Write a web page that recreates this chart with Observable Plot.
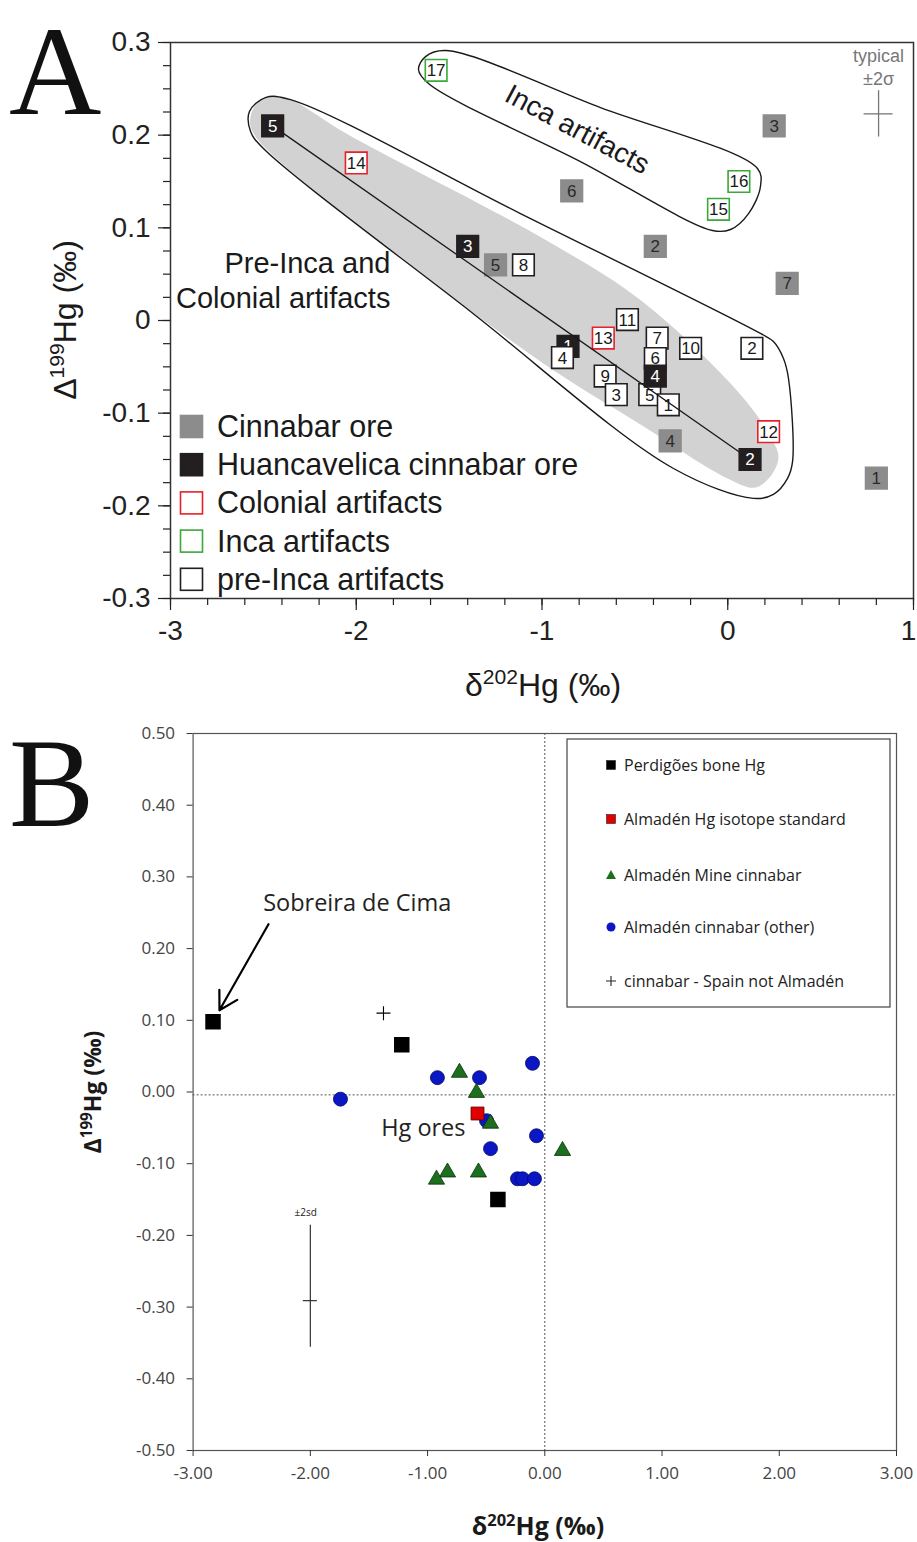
<!DOCTYPE html>
<html><head><meta charset="utf-8">
<script src="https://cdn.jsdelivr.net/npm/d3@7"></script>
<script src="https://cdn.jsdelivr.net/npm/@observablehq/plot@0.6"></script>
<style>
body{margin:0;background:#fff;}
#wrap{position:relative;width:917px;height:1542px;overflow:hidden;background:#fff;}
#panelA{position:absolute;left:0;top:0;}
#panelB{position:absolute;left:0;top:710px;}
#overlay{position:absolute;left:0;top:0;pointer-events:none;}
</style></head><body>
<div id="wrap"><div id="panelA"></div><div id="panelB"></div><svg id="overlay" width="917" height="1542"></svg></div>
<script>
// ---------------- Panel A data ----------------
const cinnabarOre = [
  {id:"3",x:0.25,y:0.21},{id:"6",x:-0.84,y:0.14},{id:"2",x:-0.39,y:0.08},
  {id:"7",x:0.32,y:0.04},{id:"5",x:-1.25,y:0.06},{id:"4",x:-0.31,y:-0.13},{id:"1",x:0.80,y:-0.17}
];
const huancavelicaOre = [
  {id:"5",x:-2.45,y:0.21},{id:"3",x:-1.40,y:0.08},{id:"1",x:-0.86,y:-0.028},
  {id:"4",x:-0.39,y:-0.06},{id:"2",x:0.12,y:-0.15}
];
const colonialArtifacts = [{id:"14",x:-2.00,y:0.17},{id:"13",x:-0.67,y:-0.019},{id:"12",x:0.22,y:-0.12}];
const incaArtifacts = [{id:"17",x:-1.57,y:0.27},{id:"16",x:0.06,y:0.15},{id:"15",x:-0.05,y:0.12}];
const preIncaArtifacts = [
  {id:"8",x:-1.10,y:0.06},{id:"11",x:-0.54,y:0.001},{id:"7",x:-0.38,y:-0.019},{id:"10",x:-0.20,y:-0.03},
  {id:"2",x:0.13,y:-0.03},{id:"6",x:-0.39,y:-0.041},{id:"4",x:-0.89,y:-0.04},{id:"9",x:-0.66,y:-0.06},
  {id:"3",x:-0.60,y:-0.08},{id:"5",x:-0.42,y:-0.08},{id:"1",x:-0.32,y:-0.091}
];
const regressionLine = [{x:-2.45,y:0.21},{x:0.12,y:-0.15}];
const bandOutline = [
  {x:-2.435,y:0.2416},{x:-2.526,y:0.2362},{x:-2.569,y:0.2201},{x:-2.553,y:0.2017},
  {x:-1.762,y:0.069},{x:-1.008,y:-0.0442},{x:-0.470,y:-0.1122},{x:-0.001,y:-0.1704},
  {x:0.149,y:-0.1802},{x:0.241,y:-0.165},{x:0.273,y:-0.1467},{x:0.230,y:-0.1251},
  {x:0.069,y:-0.080},{x:-0.470,y:0.022},{x:-1.008,y:0.090},{x:-2.047,y:0.201},{x:-2.354,y:0.2385}
];
const preIncaEnvelope = [
  {x:-2.354,y:0.2384},{x:-2.489,y:0.2406},{x:-2.575,y:0.2255},{x:-2.569,y:0.2039},{x:-2.505,y:0.1866},
  {x:-1.385,y:0.0097},{x:-0.292,y:-0.1597},{x:0.139,y:-0.192},{x:0.246,y:-0.1877},{x:0.322,y:-0.1704},
  {x:0.349,y:-0.1521},{x:0.327,y:-0.0626},{x:0.300,y:-0.041},{x:0.246,y:-0.0227},{x:0.176,y:-0.014},
  {x:-1.116,y:0.1154}
];
const incaEnvelope = [
  {x:-1.5195,y:0.2913},{x:-1.627,y:0.2848},{x:-1.665,y:0.2708},{x:-1.611,y:0.2557},{x:-0.793,y:0.1715},
  {x:-0.082,y:0.0971},{x:0.015,y:0.0982},{x:0.112,y:0.1154},{x:0.176,y:0.1446},{x:0.160,y:0.164},{x:-0.685,y:0.2298}
];
const errorA = [{x:0.812,y:0.223,ex:0.078,ey:0.025}];
const annotationsA = [
  {text:"Pre-Inca and",x:-1.816,y:0.061},
  {text:"Colonial artifacts",x:-1.816,y:0.023}
];
const incaLabel = [{text:"Inca artifacts",x:-0.81,y:0.206}];
const typicalLabel = [{text:"typical",x:0.812,y:0.285},{text:"±2σ",x:0.812,y:0.260}];
const xTicksA = [-3,-2,-1,0,1];
const yTicksA = [-0.3,-0.2,-0.1,0,0.1,0.2,0.3];
const xMinorA = d3.range(-3,1.0001,0.2);
const yMinorA = d3.range(-0.3,0.3001,0.025);
const legendA = [
  {label:"Cinnabar ore",fill:"#8c8c8c",stroke:"#8c8c8c"},
  {label:"Huancavelica cinnabar ore",fill:"#231f20",stroke:"#231f20"},
  {label:"Colonial artifacts",fill:"#fff",stroke:"#e8202a"},
  {label:"Inca artifacts",fill:"#fff",stroke:"#3aa83a"},
  {label:"pre-Inca artifacts",fill:"#fff",stroke:"#231f20"}
];
const xTitleParts = [["δ",false],["202",true],["Hg (‰)",false]];
const yTitleParts = [["Δ",false],["199",true],["Hg (‰)",false]];

// ---------------- Panel B data ----------------
const perdigoesBone = [{x:-2.83,y:0.098},{x:-1.22,y:0.066},{x:-0.40,y:-0.15}];
const almadenStandard = [{x:-0.574,y:-0.03}];
const almadenMine = [
  {x:-0.728,y:0.027},{x:-0.583,y:-0.001},{x:-0.463,y:-0.044},{x:0.151,y:-0.082},
  {x:-0.83,y:-0.112},{x:-0.924,y:-0.122},{x:-0.566,y:-0.112}
];
const almadenOther = [
  {x:-1.743,y:-0.010},{x:-0.916,y:0.020},{x:-0.557,y:0.020},{x:-0.105,y:0.040},{x:-0.497,y:-0.040},
  {x:-0.463,y:-0.079},{x:-0.071,y:-0.061},{x:-0.233,y:-0.121},{x:-0.19,y:-0.121},{x:-0.088,y:-0.121}
];
const spainNotAlmaden = [{x:-1.376,y:0.11}];
const errorB = [{x:-2.0,y:-0.291,y1:-0.186,y2:-0.356,ex:0.06}];
const arrowB = [{x1:-2.357,y1:0.234,x2:-2.775,y2:0.114}];
const annotationsB = [
  {text:"Sobreira de Cima",x:-1.6,y:0.263,size:23.5},
  {text:"Hg ores",x:-1.036,y:-0.051,size:23.5},
  {text:"±2sd",x:-2.04,y:-0.168,size:10}
];
const xTicksB = [-3,-2,-1,0,1,2,3];
const yTicksB = [-0.5,-0.4,-0.3,-0.2,-0.1,0,0.1,0.2,0.3,0.4,0.5];
const legendB = [
  {label:"Perdigões bone Hg",kind:"square",fill:"#000"},
  {label:"Almadén Hg isotope standard",kind:"square",fill:"#e00000"},
  {label:"Almadén Mine cinnabar",kind:"triangle",fill:"#1c6f1c"},
  {label:"Almadén cinnabar (other)",kind:"circle",fill:"#0b16c4"},
  {label:"cinnabar - Spain not Almadén",kind:"plus",fill:"none"}
];

// ---------------- Panel A ----------------
const fontA = "'Liberation Sans', Arial, Helvetica, sans-serif";
const R = 12.2;
const sqDot = (data, fill, stroke, filter) => Plot.dot(data, {x:"x", y:"y", symbol:"square", r:R, fill, stroke, strokeWidth:1.6, filter});
const sqText = (data, fill, filter) => Plot.text(data, {x:"x", y:"y", text:"id", fill, fontSize:17, dy:0.5, filter});
const isH1 = d => d.id === "1";
const notH1 = d => d.id !== "1";
const fmtA = d => String(d);

const plotA = Plot.plot({
  width:917, height:710,
  marginLeft:170, marginRight:4, marginTop:42, marginBottom:112,
  x:{domain:[-3,1], label:null},
  y:{domain:[-0.3,0.3], label:null},
  style:{fontFamily:fontA, color:"#222", background:"transparent", overflow:"visible"},
  marks:[
    Plot.line(bandOutline, {x:"x", y:"y", curve:"catmull-rom-closed", fill:"#d2d2d2", stroke:"none"}),
    Plot.line(preIncaEnvelope, {x:"x", y:"y", curve:"catmull-rom-closed", stroke:"#1a1a1a", strokeWidth:1.4}),
    Plot.line(incaEnvelope, {x:"x", y:"y", curve:"catmull-rom-closed", stroke:"#1a1a1a", strokeWidth:1.4}),
    Plot.ruleX(errorA, {x:"x", y1:d=>d.y-d.ey, y2:d=>d.y+d.ey, stroke:"#777", strokeWidth:1.3}),
    Plot.ruleY(errorA, {y:"y", x1:d=>d.x-d.ex, x2:d=>d.x+d.ex, stroke:"#777", strokeWidth:1.3}),
    Plot.text(typicalLabel, {x:"x", y:"y", text:"text", fill:"#777", fontSize:18}),
    sqDot(cinnabarOre, "#8c8c8c", "#8c8c8c"),
    sqText(cinnabarOre, "#2a2a2a"),
    sqDot(huancavelicaOre, "#231f20", "#231f20", isH1),
    sqText(huancavelicaOre, "#fff", isH1),
    sqDot(preIncaArtifacts, "#fff", "#231f20"),
    sqDot(colonialArtifacts, "#fff", "#e8202a"),
    sqDot(incaArtifacts, "#fff", "#3aa83a"),
    Plot.line(regressionLine, {x:"x", y:"y", stroke:"#1a1a1a", strokeWidth:1.3}),
    sqDot(huancavelicaOre, "#231f20", "#231f20", notH1),
    sqText(huancavelicaOre, "#fff", notH1),
    sqText(preIncaArtifacts, "#1a1a1a"),
    sqText(colonialArtifacts, "#1a1a1a"),
    sqText(incaArtifacts, "#1a1a1a"),
    Plot.text(annotationsA, {x:"x", y:"y", text:"text", textAnchor:"end", fontSize:29, fill:"#1a1a1a"}),
    Plot.text(incaLabel, {x:"x", y:"y", text:"text", rotate:28, fontSize:28, fill:"#1a1a1a"}),
    Plot.frame({stroke:"#333", strokeWidth:1.5}),
    Plot.axisX(xMinorA, {anchor:"bottom", tickSize:7, tickFormat:()=>"", label:null, strokeWidth:1.2}),
    Plot.axisX(xTicksA, {anchor:"bottom", tickSize:12, tickFormat:()=>"", label:null, strokeWidth:1.2}),
    Plot.axisX(xTicksA.filter(d=>d<1), {anchor:"bottom", tickSize:0, tickPadding:22, tickFormat:fmtA, fontSize:28, label:null}),
    Plot.axisX(xTicksA.filter(d=>d>=1), {anchor:"bottom", tickSize:0, tickPadding:22, tickFormat:fmtA, fontSize:28, label:null, dx:-5}),
    Plot.axisY(yMinorA, {anchor:"left", tickSize:7, tickFormat:()=>"", label:null, strokeWidth:1.2}),
    Plot.axisY(yTicksA, {anchor:"left", tickSize:12, tickPadding:8, tickFormat:fmtA, fontSize:28, label:null, strokeWidth:1.2})
  ]
});
document.getElementById("panelA").appendChild(plotA);

// ---------------- Panel B ----------------
const fontB = "'Open Sans', 'Noto Sans', sans-serif";
const thinPlus = {draw(ctx, size){ const r = Math.sqrt(size/Math.PI); ctx.moveTo(-r,0); ctx.lineTo(r,0); ctx.moveTo(0,-r); ctx.lineTo(0,r);} };
const plotB = Plot.plot({
  width:917, height:832,
  marginLeft:192.6, marginRight:21, marginTop:23, marginBottom:92,
  x:{domain:[-3,3], label:null},
  y:{domain:[-0.5,0.5], label:null},
  style:{fontFamily:fontB, color:"#333", background:"transparent", overflow:"visible"},
  marks:[
    Plot.ruleX([0], {stroke:"#555", strokeDasharray:"2,2", strokeWidth:1}),
    Plot.ruleY([-0.004], {stroke:"#555", strokeDasharray:"2,2", strokeWidth:1}),
    Plot.ruleX(errorB, {x:"x", y1:"y1", y2:"y2", stroke:"#333", strokeWidth:1.2}),
    Plot.ruleY(errorB, {y:"y", x1:d=>d.x-d.ex, x2:d=>d.x+d.ex, stroke:"#333", strokeWidth:1.2}),
    Plot.dot(perdigoesBone, {x:"x", y:"y", symbol:"square", r:7.9, fill:"#000", stroke:"#000"}),
    Plot.dot(almadenOther, {x:"x", y:"y", symbol:"circle", r:7, fill:"#0b16c4", stroke:"#000a60", strokeWidth:0.8}),
    Plot.dot(almadenStandard, {x:"x", y:"y", symbol:"square", r:7.3, fill:"#e00000", stroke:"#500", strokeWidth:0.8}),
    Plot.dot(almadenMine, {x:"x", y:"y", symbol:"triangle", r:6, fill:"#1c6f1c", stroke:"#0a300a", strokeWidth:0.8}),
    Plot.dot(spainNotAlmaden, {x:"x", y:"y", symbol:thinPlus, r:7, fill:"none", stroke:"#000", strokeWidth:1.1}),
    Plot.arrow(arrowB, {x1:"x1", y1:"y1", x2:"x2", y2:"y2", stroke:"#000", strokeWidth:2.2, headLength:14}),
    Plot.text(annotationsB, {x:"x", y:"y", text:"text", fontSize:d=>d.size, fill:"#222"}),
    Plot.frame({stroke:"#555", strokeWidth:1.2}),
    Plot.axisX(xTicksB, {anchor:"bottom", tickSize:6, tickPadding:10, tickFormat:d=>d.toFixed(2), fontSize:17, fill:"#444", label:null}),
    Plot.axisY(yTicksB, {anchor:"left", tickSize:6, tickPadding:12, tickFormat:d=>d.toFixed(2), fontSize:17, fill:"#444", label:null})
  ]
});
document.getElementById("panelB").appendChild(plotB);

// ---------------- Overlay: panel letters, axis titles, legends ----------------
const ov = d3.select("#overlay");
const serif = "'Liberation Serif','Times New Roman',serif";
ov.append("text").attr("x",9).attr("y",114).attr("font-family",serif).attr("font-size",128).attr("fill","#111").text("A");
ov.append("text").attr("x",9).attr("y",826).attr("font-family",serif).attr("font-size",128).attr("fill","#111").text("B");

function title(x, y, parts, size, opts={}){
  const t = ov.append("text").attr("text-anchor","middle").attr("font-family",opts.font)
    .attr("font-size",size).attr("font-weight",opts.weight||"normal").attr("fill","#1a1a1a")
    .attr("transform",`translate(${x},${y})${opts.rotate?` rotate(${opts.rotate})`:""}`);
  const shift = size*0.38;
  let up = false;
  parts.forEach(([s,sup])=>{
    const ts = t.append("tspan").text(s);
    if (sup && !up){ ts.attr("font-size",size*0.66).attr("dy",-shift); up = true; }
    else if (!sup && up){ ts.attr("dy",shift); up = false; }
  });
}
title(543, 696, xTitleParts, 32, {font:fontA});
title(76, 320, yTitleParts, 32, {font:fontA, rotate:-90});
title(538, 1535, xTitleParts, 25, {font:fontB, weight:"bold"});
title(101, 1092, yTitleParts, 23, {font:fontB, weight:"bold", rotate:-90});

const lgA = ov.append("g").attr("font-family",fontA);
legendA.forEach((d,i)=>{
  const cy = 426.5 + i*38.2;
  lgA.append("rect").attr("x",180.5).attr("y",cy-11).attr("width",22).attr("height",22)
    .attr("fill",d.fill).attr("stroke",d.stroke).attr("stroke-width",1.6);
  lgA.append("text").attr("x",217).attr("y",cy+10.5).attr("font-size",30.5).attr("fill","#1a1a1a").text(d.label);
});

const lgB = ov.append("g").attr("font-family",fontB);
lgB.append("rect").attr("x",567).attr("y",739).attr("width",323).attr("height",268)
  .attr("fill","none").attr("stroke","#444").attr("stroke-width",1.2);
const rowsB = [765,819,875,927,981];
legendB.forEach((d,i)=>{
  const cy = rowsB[i], cx = 611;
  if (d.kind==="square") lgB.append("rect").attr("x",cx-4.5).attr("y",cy-4.5).attr("width",9).attr("height",9).attr("fill",d.fill).attr("stroke","#222").attr("stroke-width",0.6);
  if (d.kind==="triangle") lgB.append("path").attr("d",`M${cx},${cy-5}L${cx+5},${cy+4}L${cx-5},${cy+4}Z`).attr("fill",d.fill);
  if (d.kind==="circle") lgB.append("circle").attr("cx",cx).attr("cy",cy).attr("r",4.5).attr("fill",d.fill);
  if (d.kind==="plus") lgB.append("path").attr("d",`M${cx-5},${cy}H${cx+5}M${cx},${cy-5}V${cy+5}`).attr("stroke","#222").attr("stroke-width",1.1);
  lgB.append("text").attr("x",624).attr("y",cy+5.5).attr("font-size",16).attr("fill","#222").text(d.label);
});
</script>
</body></html>
